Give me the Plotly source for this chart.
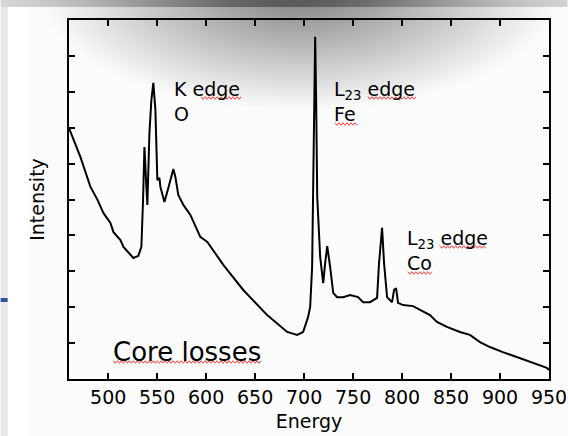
import base64
import struct
import zlib

import numpy as np
import plotly.graph_objects as go

# spectrum (energy in eV, intensity in arbitrary units 0..10)
energy = [460.0, 471.7, 481.9, 489.1, 495.2, 502.3, 505.4, 512.5, 515.6, 525.7,
          530.8, 533.9, 535.6, 537.0, 539.0, 540.0, 542.1, 544.1, 546.1, 548.2,
          550.2, 552.3, 553.3, 557.4, 561.4, 566.5, 568.6, 571.6, 576.7, 583.9,
          594.0, 601.2, 617.5, 637.9, 662.3, 682.7, 692.9, 699.0, 704.1, 706.2,
          708.2, 709.2, 710.3, 711.3, 712.3, 713.4, 716.4, 719.5, 721.5, 723.6,
          726.6, 729.7, 733.7, 739.8, 747.0, 755.1, 760.2, 767.3, 774.5, 776.5,
          779.6, 781.6, 784.7, 789.8, 791.8, 793.9, 795.9, 801.0, 811.2, 821.4,
          828.5, 835.6, 845.8, 859.1, 869.3, 879.5, 889.7, 902.9, 920.3, 933.5,
          947.8, 950.0]
intensity = [6.99, 6.18, 5.35, 4.99, 4.62, 4.35, 4.09, 3.87, 3.68, 3.37,
             3.43, 3.68, 4.99, 6.46, 5.35, 4.85, 6.85, 7.77, 8.25, 7.49,
             5.54, 5.60, 5.35, 4.93, 5.32, 5.85, 5.63, 5.13, 4.85, 4.57,
             3.96, 3.82, 3.18, 2.48, 1.78, 1.31, 1.23, 1.31, 1.73, 2.01,
             3.12, 4.99, 7.77, 9.53, 7.77, 5.07, 3.40, 2.67, 3.23, 3.70,
             3.12, 2.40, 2.28, 2.28, 2.34, 2.28, 2.14, 2.14, 2.26, 3.23,
             4.21, 3.23, 2.28, 2.14, 2.48, 2.53, 2.12, 2.06, 2.03, 1.87,
             1.78, 1.59, 1.45, 1.31, 1.23, 1.03, 0.89, 0.75, 0.58, 0.45,
             0.31, 0.25]

x_ticks = [500, 550, 600, 650, 700, 750, 800, 850, 900, 950]

W, H = 568, 436
L, R, T, B = 68.5, 549.5, 20, 379
FONT = 'DejaVu Sans'


def png_uri(arr):
    h, w, _ = arr.shape
    raw = b''.join(b'\x00' + row.tobytes() for row in arr)

    def chunk(tag, data):
        return (struct.pack('>I', len(data)) + tag + data
                + struct.pack('>I', zlib.crc32(tag + data) & 0xffffffff))

    png = (b'\x89PNG\r\n\x1a\n'
           + chunk(b'IHDR', struct.pack('>IIBBBBB', w, h, 8, 2, 0, 0, 0))
           + chunk(b'IDAT', zlib.compress(raw, 9))
           + chunk(b'IEND', b''))
    return 'data:image/png;base64,' + base64.b64encode(png).decode()


# slide background: grey frame strips and a soft grey glow at the top
yy, xx = np.mgrid[0:H, 0:W].astype(float)
bg = np.full((H, W), 255.0)
bg[:, 27:] = 252
r = np.sqrt(((xx - 300) / 260) ** 2 + ((yy + 10) / 120) ** 2)
d = np.clip(1 - r, 0, 1)
bg -= 125 * d
bg[:, :7] = 232
top = 232 - 140 * np.exp(-((xx[:7] - 290) / 200) ** 2)
bg[:7] = top
bg = np.clip(bg, 0, 255).astype(np.uint8)
bg_img = np.stack([bg, bg, bg], axis=-1)


def px(x):
    return (x - L) / (R - L)


def py(y):
    return (B - y) / (B - T)


def wavy(x0, x1, y, amp=1.3, step=2.0):
    pts = []
    x = x0
    k = 0
    while x <= x1:
        pts.append((px(x), py(y + (amp if k % 2 else -amp))))
        x += step
        k += 1
    return 'M ' + ' L '.join(f'{a:.5f},{b:.5f}' for a, b in pts)


fig = go.Figure()

fig.add_trace(
    go.Scatter(
        x=energy, y=intensity,
        mode='lines',
        line=dict(color='black', width=2),
        showlegend=False,
    )
)

underlines = [(201, 242, 98), (368, 416, 98), (335, 358, 124),
              (440, 487, 247), (408, 433, 273), (113, 262, 362)]
shapes = [
    dict(type='path', xref='paper', yref='paper', path=wavy(*u),
         line=dict(color='#ff3b3b', width=1))
    for u in underlines
]
# blue accent at the left edge of the slide
shapes.append(dict(type='rect', xref='paper', yref='paper',
                   x0=px(0), x1=px(7), y0=py(298), y1=py(302),
                   fillcolor='#2f5597', line_width=0))

ann_font = dict(family=FONT, size=19, color='black')
annotations = [
    dict(x=565.6, y=7.72, text='K edge<br>O'),
    dict(x=728.7, y=7.72, text='L<sub>23</sub> edge<br>Fe'),
    dict(x=803.1, y=3.58, text='L<sub>23</sub> edge<br>Co'),
]
annotations = [dict(a, xref='x', yref='y', showarrow=False, xanchor='left',
                    yanchor='middle', align='left', font=ann_font)
               for a in annotations]
annotations.append(dict(x=502.4, y=0.75, xref='x', yref='y', text='Core losses',
                        showarrow=False, xanchor='left', yanchor='middle',
                        font=dict(family=FONT, size=26, color='black')))

fig.update_layout(
    width=W, height=H,
    margin=dict(l=L, r=W - R, t=T, b=H - B, pad=0, autoexpand=False),
    paper_bgcolor='white',
    plot_bgcolor='rgba(0,0,0,0)',
    font=dict(family=FONT, size=19, color='black'),
    shapes=shapes,
    annotations=annotations,
    images=[dict(source=png_uri(bg_img), xref='paper', yref='paper',
                 x=px(0), y=py(0), sizex=W / (R - L), sizey=H / (B - T),
                 xanchor='left', yanchor='top', sizing='stretch',
                 layer='below')],
)
fig.update_xaxes(
    range=[460, 950], tickvals=x_ticks, automargin=False,
    showgrid=False, zeroline=False,
    ticks='inside', ticklen=6, tickwidth=2, tickcolor='black',
    showline=True, linecolor='black', linewidth=2, mirror='ticks',
    tickfont=dict(family=FONT, size=19, color='black'),
    title=dict(text='Energy', font=dict(family=FONT, size=19), standoff=8),
)
fig.update_yaxes(
    range=[0, 10], dtick=1, showticklabels=False, automargin=False,
    showgrid=False, zeroline=False,
    ticks='inside', ticklen=6, tickwidth=2, tickcolor='black',
    showline=True, linecolor='black', linewidth=2, mirror='ticks',
    title=dict(text='Intensity', font=dict(family=FONT, size=19), standoff=17),
)

fig.write_html('out.html', config={'displayModeBar': False},
               post_script="document.body.style.margin='0';")
